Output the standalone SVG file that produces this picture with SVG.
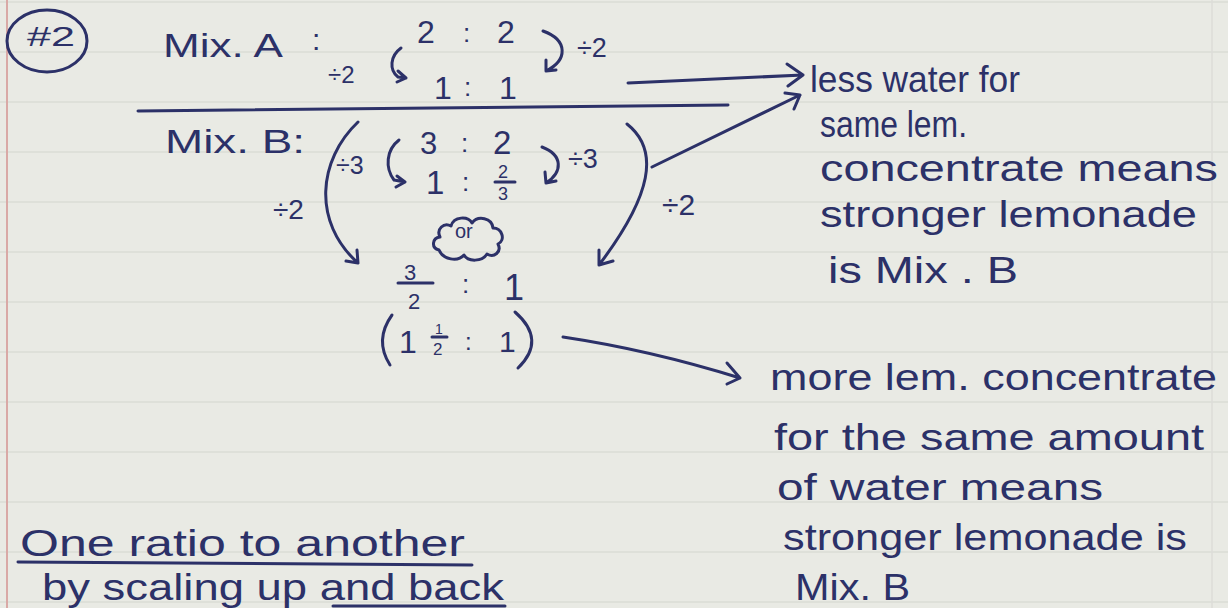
<svg xmlns="http://www.w3.org/2000/svg" width="1228" height="608" viewBox="0 0 1228 608">
<defs>
<style>
.ink{fill:#2c3168;font-family:"Liberation Sans","DejaVu Sans",sans-serif}
.s{stroke:#2c3168;stroke-width:3;fill:none;stroke-linecap:round;stroke-linejoin:round}
.rule{stroke:#dadcd6;stroke-width:1.5}
</style>
</defs>
<rect width="1228" height="608" fill="#e9eae4"/>
<g id="paper">
<line class="rule" x1="0" y1="2" x2="1228" y2="2"/>
<line class="rule" x1="0" y1="52" x2="1228" y2="52"/>
<line class="rule" x1="0" y1="102" x2="1228" y2="102"/>
<line class="rule" x1="0" y1="152" x2="1228" y2="152"/>
<line class="rule" x1="0" y1="202" x2="1228" y2="202"/>
<line class="rule" x1="0" y1="252" x2="1228" y2="252"/>
<line class="rule" x1="0" y1="302" x2="1228" y2="302"/>
<line class="rule" x1="0" y1="352" x2="1228" y2="352"/>
<line class="rule" x1="0" y1="402" x2="1228" y2="402"/>
<line class="rule" x1="0" y1="452" x2="1228" y2="452"/>
<line class="rule" x1="0" y1="502" x2="1228" y2="502"/>
<line class="rule" x1="0" y1="552" x2="1228" y2="552"/>
<line class="rule" x1="0" y1="602" x2="1228" y2="602"/>
<line x1="7" y1="0" x2="7" y2="608" stroke="#d9a9a6" stroke-width="2"/>
<line x1="1212" y1="0" x2="1212" y2="608" stroke="#dcddd8" stroke-width="1.5"/>
</g>
<g id="label-number">
<ellipse class="s" cx="47" cy="41" rx="40" ry="31"/>
<text class="ink" x="27" y="46" font-size="28" textLength="48" lengthAdjust="spacingAndGlyphs">#2</text>
</g>
<g id="mix-a">
<text class="ink" x="163" y="57" font-size="34" textLength="120" lengthAdjust="spacingAndGlyphs">Mix. A</text>
<text class="ink" x="312" y="50" font-size="30">:</text>
<text class="ink" x="328" y="83" font-size="24">÷2</text>
<text class="ink" x="417" y="43" font-size="32">2</text>
<text class="ink" x="463" y="42" font-size="26">:</text>
<text class="ink" x="497" y="43" font-size="32">2</text>
<text class="ink" x="434" y="99" font-size="32">1</text>
<text class="ink" x="464" y="96" font-size="26">:</text>
<text class="ink" x="499" y="99" font-size="32">1</text>
<path class="s" d="M401,48 C390,56 389,70 398,77 L406,78 M398,71 L406,78 L397,82"/>
<path class="s" d="M543,31 C568,40 568,60 546,71 M546,60 L546,71 L556,70"/>
<text class="ink" x="577" y="57" font-size="27">÷2</text>
</g>
<g id="mix-b">
<text class="ink" x="165" y="153" font-size="34" textLength="140" lengthAdjust="spacingAndGlyphs">Mix. B:</text>
<text class="ink" x="336" y="174" font-size="25">÷3</text>
<path class="s" d="M399,140 C386,150 385,168 394,180 L405,182 M397,176 L405,182 L396,187"/>
<text class="ink" x="420" y="154" font-size="31">3</text>
<text class="ink" x="461" y="152" font-size="26">:</text>
<text class="ink" x="493" y="154" font-size="33">2</text>
<text class="ink" x="426" y="194" font-size="33">1</text>
<text class="ink" x="462" y="191" font-size="26">:</text>
<text class="ink" x="498" y="178" font-size="18">2</text>
<line class="s" x1="495" y1="182" x2="515" y2="182"/>
<text class="ink" x="498" y="200" font-size="18">3</text>
<path class="s" d="M542,147 C563,155 563,172 546,183 M545,172 L546,183 L556,181"/>
<text class="ink" x="568" y="168" font-size="27">÷3</text>
<path class="s" d="M439,250 C431,248 432,238 440,237 C436,229 444,222 451,226 C454,216 468,216 472,223 C478,215 492,218 493,228 C502,228 506,240 498,244 C502,252 494,258 487,254 C482,262 468,262 464,255 C458,262 443,260 439,250 Z"/>
<text class="ink" x="455" y="238" font-size="20">or</text>
</g>
<g id="result">
<text class="ink" x="404" y="280" font-size="22">3</text>
<line class="s" x1="398" y1="283" x2="433" y2="283"/>
<text class="ink" x="408" y="309" font-size="22">2</text>
<text class="ink" x="462" y="293" font-size="26">:</text>
<text class="ink" x="504" y="300" font-size="36">1</text>
<path class="s" d="M392,315 Q374,340 390,365"/>
<text class="ink" x="399" y="353" font-size="32">1</text>
<text class="ink" x="435" y="334" font-size="14">1</text>
<line class="s" x1="432" y1="337" x2="447" y2="337" stroke-width="2"/>
<text class="ink" x="433" y="355" font-size="17">2</text>
<text class="ink" x="465" y="350" font-size="24">:</text>
<text class="ink" x="499" y="352" font-size="30">1</text>
<path class="s" d="M515,312 Q547,340 518,368"/>
</g>
<g id="connectors">
<path class="s" d="M628,83 L803,75 M787,64 L803,75 L788,86"/>
<path class="s" d="M138,111 L728,105"/>
<path class="s" d="M652,167 L800,95 M785,93 L800,95 L794,109"/>
<path class="s" d="M358,122 C318,160 312,222 358,263 M346,261 L358,263 L357,250"/>
<path class="s" d="M627,124 C660,150 652,195 599,265 M599,250 L599,265 L613,261"/>
<path class="s" d="M563,337 Q650,350 740,378 M727,363 L740,378 L727,384"/>
</g>
<text class="ink" x="273" y="219" font-size="28">÷2</text>
<text class="ink" x="662" y="215" font-size="30">÷2</text>
<g id="note-top">
<text class="ink" x="810" y="92" font-size="37" textLength="210" lengthAdjust="spacingAndGlyphs">less water for</text>
<text class="ink" x="820" y="137" font-size="37" textLength="147" lengthAdjust="spacingAndGlyphs">same lem.</text>
<text class="ink" x="820" y="181" font-size="37" textLength="398" lengthAdjust="spacingAndGlyphs">concentrate means</text>
<text class="ink" x="820" y="227" font-size="37" textLength="377" lengthAdjust="spacingAndGlyphs">stronger lemonade</text>
<text class="ink" x="828" y="283" font-size="37" textLength="190" lengthAdjust="spacingAndGlyphs">is Mix . B</text>
</g>
<g id="note-bottom">
<text class="ink" x="770" y="390" font-size="37" textLength="447" lengthAdjust="spacingAndGlyphs">more lem. concentrate</text>
<text class="ink" x="774" y="450" font-size="37" textLength="430" lengthAdjust="spacingAndGlyphs">for the same amount</text>
<text class="ink" x="777" y="500" font-size="37" textLength="326" lengthAdjust="spacingAndGlyphs">of water means</text>
<text class="ink" x="783" y="550" font-size="37" textLength="404" lengthAdjust="spacingAndGlyphs">stronger lemonade is</text>
<text class="ink" x="795" y="600" font-size="37" textLength="115" lengthAdjust="spacingAndGlyphs">Mix. B</text>
</g>
<g id="summary">
<text class="ink" x="20" y="556" font-size="37" textLength="445" lengthAdjust="spacingAndGlyphs">One ratio to another</text>
<path class="s" d="M18,562 L472,565"/>
<text class="ink" x="42" y="600" font-size="37" textLength="462" lengthAdjust="spacingAndGlyphs">by scaling up and back</text>
<path class="s" d="M333,606 L505,606"/>
</g>
</svg>
